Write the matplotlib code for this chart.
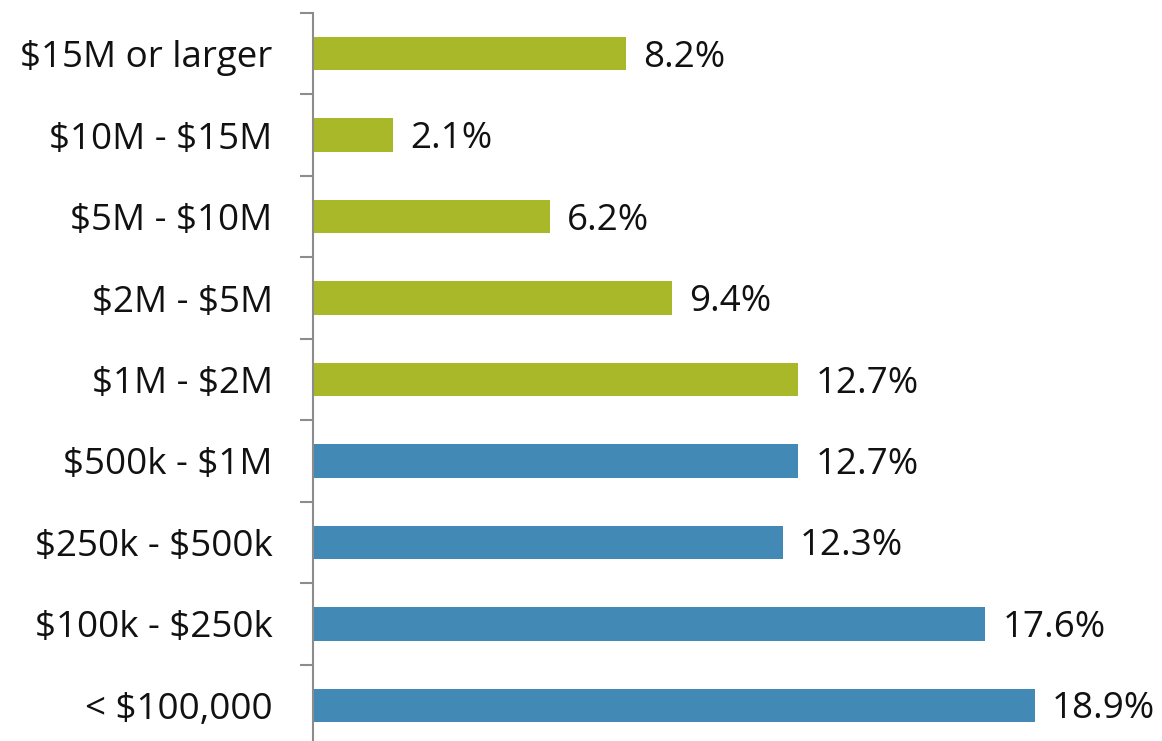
import matplotlib
matplotlib.use("Agg")
from matplotlib import pyplot as plt
import numpy as np

categories = ["$15M or larger", "$10M - $15M", "$5M - $10M", "$2M - $5M", "$1M - $2M",
              "$500k - $1M", "$250k - $500k", "$100k - $250k", "< $100,000"]
values = [8.2, 2.1, 6.2, 9.4, 12.7, 12.7, 12.3, 17.6, 18.9]
groups = ["large", "large", "large", "large", "large", "small", "small", "small", "small"]

GREEN = "#A8B828"
BLUE = "#4289B5"
AXIS_GRAY = "#8C8C8C"

plt.rcParams["font.family"] = ["Open Sans", "DejaVu Sans"]
plt.rcParams["text.parse_math"] = False

fig = plt.figure(figsize=(11.62, 7.41), dpi=100)
ax = fig.add_axes([313 / 1162, -5 / 741, 1 - 313 / 1162, 733 / 741])

y = np.arange(len(categories))
colors = [GREEN if g == "large" else BLUE for g in groups]
ax.barh(y, values, height=0.41, color=colors)

for yi, v in zip(y, values):
    ax.text(v + 0.45, yi + 0.05, f"{v:.1f}%", va="center", ha="left", fontsize=26.5, color="#111111")

ax.set_ylim(len(categories) - 0.5, -0.5)
ax.set_xlim(0, (1162 - 313) / 38.2)

ax.set_yticks(y)
ax.set_yticklabels(categories, fontsize=26.5, color="#111111")
ax.tick_params(axis="y", which="major", length=0, pad=29)
ax.set_yticks(np.arange(-0.5, len(categories)), minor=True)
ax.tick_params(axis="y", which="minor", length=9.5, width=1.5, color=AXIS_GRAY)

ax.set_xticks([])
for side in ["top", "right", "bottom"]:
    ax.spines[side].set_visible(False)
ax.spines["left"].set_color(AXIS_GRAY)
ax.spines["left"].set_linewidth(1.5)

fig.savefig("out.png", dpi=100)
